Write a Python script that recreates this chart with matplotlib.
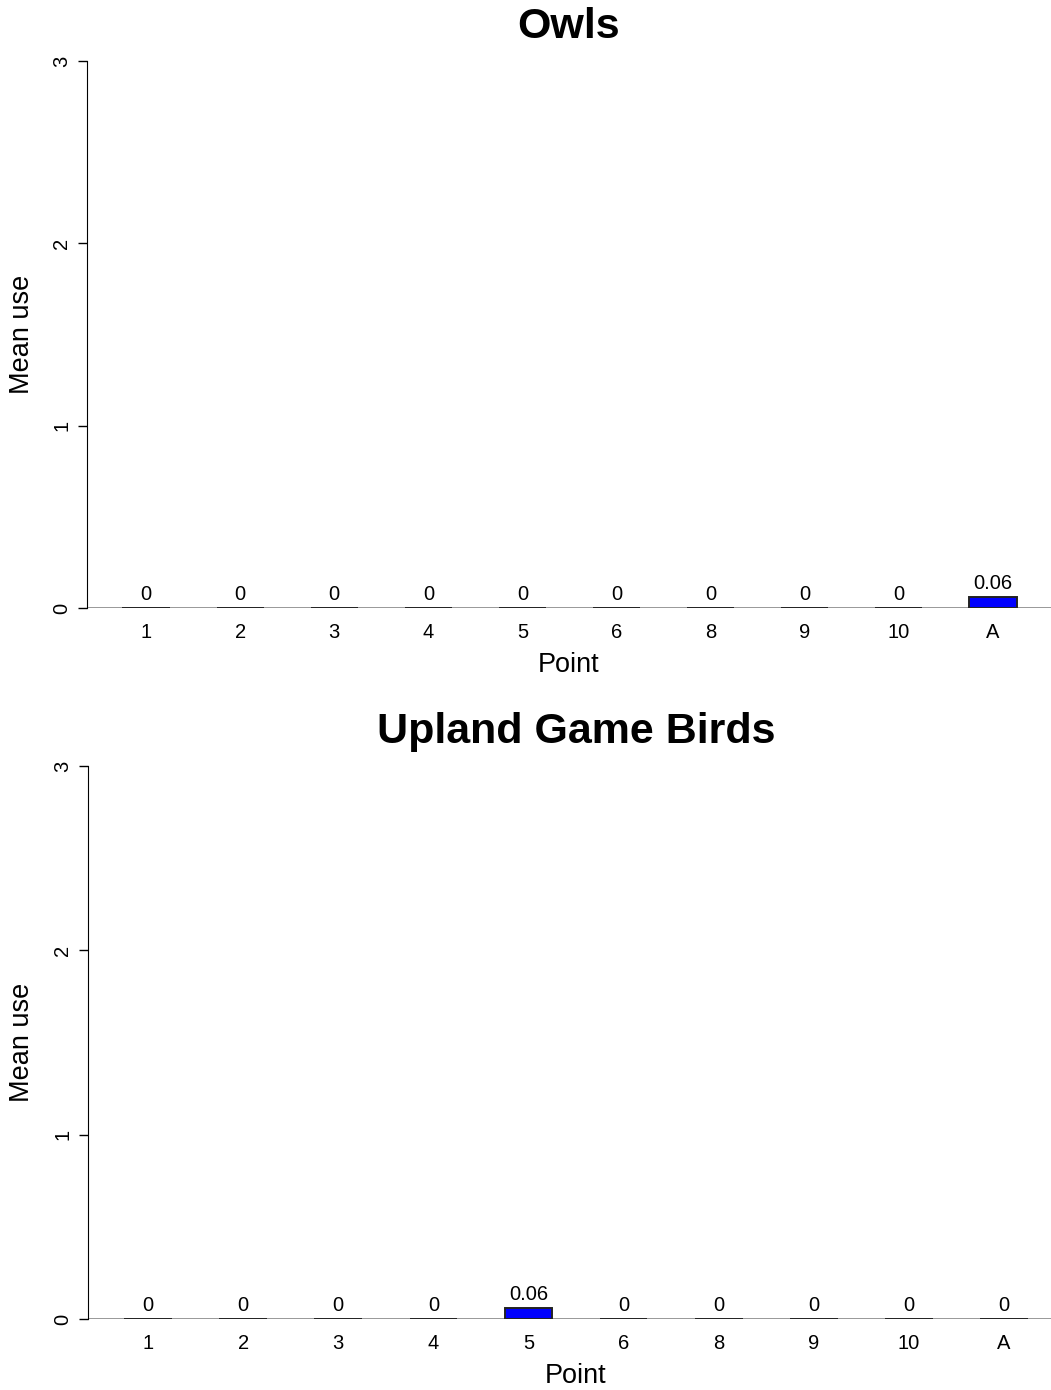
import matplotlib
matplotlib.use("Agg")
import matplotlib.pyplot as plt

plt.rcParams['font.family'] = ['Liberation Sans', 'DejaVu Sans']

# data
points = ["1", "2", "3", "4", "5", "6", "8", "9", "10", "A"]
owls = [0, 0, 0, 0, 0, 0, 0, 0, 0, 0.06]
upland = [0, 0, 0, 0, 0.06, 0, 0, 0, 0, 0]
titles = ["Owls", "Upland Game Birds"]
yticks = [0, 1, 2, 3]

W, H = 1051, 1390
fig = plt.figure(figsize=(W / 100, H / 100), dpi=100)


def px_axes(left, right, top, bottom):
    return fig.add_axes([left / W, 1 - bottom / H, (right - left) / W, (bottom - top) / H])


def panel(ax, vals, title, xlim, box):
    left, right, top, bottom = box
    x = list(range(len(points)))
    ax.axhline(0, color="#888888", linewidth=1.2, zorder=1)
    ax.bar(x, vals, width=0.5, color="#0000ff", edgecolor="#222222", linewidth=1.4, zorder=3)
    for xi, v in zip(x, vals):
        ax.annotate(f"{v:g}", (xi, v), xytext=(0, 10), textcoords="offset points",
                    ha="center", va="center", fontsize=14.5)
    ax.set_xlim(*xlim)
    ax.set_ylim(0, 3)
    ax.set_xticks(x, points, fontsize=14.5)
    ax.set_yticks(yticks, [str(t) for t in yticks], fontsize=14.5, rotation=90, va="center")
    ax.tick_params(axis="x", length=0, pad=11)
    ax.tick_params(axis="y", length=6.5, width=1, pad=5)
    for s in ["top", "right", "bottom"]:
        ax.spines[s].set_visible(False)
    ax.spines["left"].set_bounds(0, 3)
    ax.patch.set_alpha(0)
    cx = (left + right) / 2
    fig.text(cx / W, 1 - (top - 34) / H, title, ha="center", va="center",
             fontsize=31, fontweight="bold")
    fig.text(cx / W, 1 - (bottom + 57) / H, "Point", ha="center", va="center", fontsize=19.5)
    fig.text(22 / W, 1 - ((top + bottom) / 2) / H, "Mean use", ha="center", va="center",
             fontsize=19.5, rotation=90)


box1 = (87, 1051, 61, 608)
box2 = (88, 1064, 766, 1319)
ax1 = px_axes(*box1)
ax2 = px_axes(*box2)
panel(ax1, owls, titles[0], (-0.627, 9.616), box1)
panel(ax2, upland, titles[1], (-0.631, 9.63), box2)

fig.savefig("out.png", dpi=100)
